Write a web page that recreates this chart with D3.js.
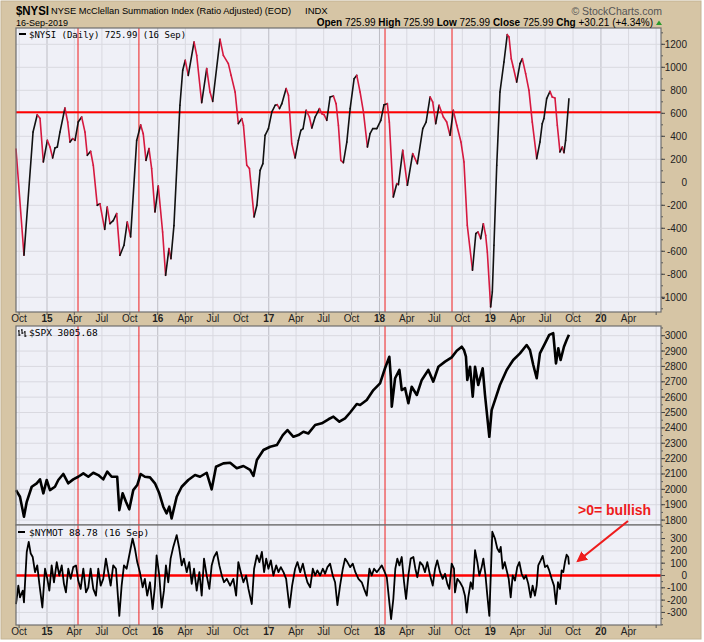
<!DOCTYPE html>
<html>
<head>
<meta charset="utf-8">
<title>$NYSI McClellan Summation Index</title>
<script src="https://cdnjs.cloudflare.com/ajax/libs/d3/7.8.5/d3.min.js"></script>
<style>
  body { margin: 0; background: #fff; }
  #chartDiv { width: 704px; height: 642px; }
  text { font-family: "Liberation Sans", Arial, sans-serif; }
  .mono { font-family: "DejaVu Sans Mono", "Liberation Mono", monospace; }
</style>
</head>
<body>
<div id="chartDiv"></div>
<script>

// ---- data (dates as decimal years) ----
const nysiDates = [
  2014.720, 2014.792, 2014.874, 2014.912, 2014.937, 2014.967, 2015.003, 2015.027, 2015.051, 2015.072,
  2015.093, 2015.117, 2015.162, 2015.187, 2015.208, 2015.232, 2015.253, 2015.282, 2015.313, 2015.343,
  2015.364, 2015.394, 2015.418, 2015.454, 2015.478, 2015.521, 2015.544, 2015.569, 2015.598, 2015.629,
  2015.659, 2015.695, 2015.725, 2015.755, 2015.810, 2015.846, 2015.869, 2015.894, 2015.921, 2015.945,
  2015.975, 2016.005, 2016.044, 2016.071, 2016.101, 2016.119, 2016.146, 2016.200, 2016.225, 2016.248,
  2016.275, 2016.327, 2016.351, 2016.396, 2016.441, 2016.471, 2016.495, 2016.561, 2016.591, 2016.636,
  2016.661, 2016.697, 2016.726, 2016.757, 2016.772, 2016.802, 2016.826, 2016.868, 2016.893, 2016.922,
  2016.947, 2016.967, 2016.997, 2017.028, 2017.058, 2017.076, 2017.097, 2017.118, 2017.157, 2017.178,
  2017.208, 2017.238, 2017.268, 2017.290, 2017.310, 2017.338, 2017.367, 2017.389, 2017.419, 2017.458,
  2017.479, 2017.500, 2017.524, 2017.554, 2017.584, 2017.608, 2017.629, 2017.651, 2017.674, 2017.705,
  2017.735, 2017.771, 2017.795, 2017.825, 2017.855, 2017.891, 2017.915, 2017.939, 2017.976, 2018.012,
  2018.041, 2018.071, 2018.089, 2018.125, 2018.156, 2018.171, 2018.210, 2018.252, 2018.300, 2018.342,
  2018.391, 2018.421, 2018.457, 2018.481, 2018.508, 2018.538, 2018.577, 2018.607, 2018.637, 2018.667,
  2018.698, 2018.736, 2018.763, 2018.793, 2018.840, 2018.870, 2018.890, 2018.914, 2018.938, 2018.959,
  2018.974, 2019.004, 2019.019, 2019.034, 2019.059, 2019.088, 2019.124, 2019.154, 2019.170, 2019.190,
  2019.208, 2019.239, 2019.269, 2019.290, 2019.320, 2019.350, 2019.380, 2019.420, 2019.449, 2019.470,
  2019.485, 2019.510, 2019.540, 2019.560, 2019.585, 2019.606, 2019.630, 2019.651, 2019.666, 2019.681,
  2019.711
];
const nysiValues = [
  290, -635, 437, 588, 556, 177, 365, 307, 212, 299,
  307, 437, 646, 524, 350, 380, 365, 524, 568, 437,
  235, 270, 148, -200, -186, -409, -215, -360, -333, -272,
  -635, -548, -345, -475, 365, 499, 423, 191, 293, 119,
  -258, -32, -432, -809, -577, -664, -377, 670, 974, 1061,
  930, 1220, 1104, 693, 989, 785, 704, 1243, 1104, 1032,
  930, 785, 510, 554, 496, 148, 119, -301, -200, 104,
  162, 409, 467, 612, 670, 675, 641, 684, 815, 757,
  336, 212, 365, 452, 467, 626, 568, 472, 568, 641,
  597, 588, 539, 742, 750, 684, 496, 191, 171, 350,
  641, 901, 930, 785, 612, 307, 423, 467, 467, 539,
  675, 684, 524, -128, -12, -20, 278, -26, 249, 162,
  467, 524, 742, 698, 510, 670, 568, 524, 409, 626,
  496, 350, 177, -374, -765, -446, -432, -490, -360, -461,
  -606, -1084, -954, -548, 148, 785, 1046, 1284, 1264, 1075,
  1003, 872, 1032, 1075, 945, 800, 524, 206, 350, 510,
  554, 728, 791, 742, 733, 496, 264, 307, 258, 365,
  726
];

const spxDates = [
  2014.720, 2014.756, 2014.792, 2014.817, 2014.862, 2014.907, 2014.937, 2014.967, 2014.997, 2015.027,
  2015.072, 2015.102, 2015.147, 2015.192, 2015.237, 2015.282, 2015.328, 2015.373, 2015.418, 2015.463,
  2015.508, 2015.544, 2015.584, 2015.634, 2015.653, 2015.683, 2015.713, 2015.743, 2015.779, 2015.815,
  2015.846, 2015.884, 2015.930, 2015.975, 2016.014, 2016.050, 2016.080, 2016.104, 2016.125, 2016.171,
  2016.216, 2016.275, 2016.336, 2016.381, 2016.441, 2016.486, 2016.525, 2016.591, 2016.652, 2016.712,
  2016.772, 2016.832, 2016.862, 2016.893, 2016.952, 2017.013, 2017.073, 2017.127, 2017.169, 2017.223,
  2017.268, 2017.313, 2017.358, 2017.419, 2017.479, 2017.539, 2017.584, 2017.638, 2017.689, 2017.735,
  2017.795, 2017.825, 2017.885, 2017.945, 2018.005, 2018.050, 2018.089, 2018.102, 2018.111, 2018.141,
  2018.180, 2018.201, 2018.231, 2018.261, 2018.291, 2018.337, 2018.382, 2018.441, 2018.486, 2018.532,
  2018.592, 2018.652, 2018.698, 2018.743, 2018.763, 2018.781, 2018.793, 2018.818, 2018.842, 2018.863,
  2018.892, 2018.932, 2018.953, 2018.992, 2019.013, 2019.043, 2019.088, 2019.149, 2019.208, 2019.269,
  2019.329, 2019.359, 2019.389, 2019.420, 2019.449, 2019.495, 2019.533, 2019.569, 2019.594, 2019.615,
  2019.636, 2019.666, 2019.690, 2019.711
];
const spxValues = [
  1995, 1952, 1822, 1919, 2017, 2039, 2065, 1974, 2061, 1995,
  2017, 2061, 2100, 2039, 2065, 2082, 2104, 2082, 2108, 2093,
  2065, 2115, 2082, 2082, 1865, 1974, 1919, 1870, 1995, 2028,
  2100, 2082, 2078, 2039, 1974, 1887, 1844, 1887, 1811, 1952,
  2017, 2061, 2093, 2082, 2108, 2000, 2147, 2169, 2173, 2137,
  2152, 2126, 2087, 2191, 2256, 2277, 2288, 2353, 2386, 2342,
  2353, 2375, 2364, 2419, 2430, 2456, 2473, 2440, 2462, 2500,
  2555, 2549, 2581, 2646, 2690, 2788, 2863, 2733, 2538, 2723,
  2777, 2646, 2658, 2560, 2668, 2614, 2712, 2777, 2701, 2798,
  2831, 2859, 2902, 2928, 2907, 2863, 2712, 2798, 2603, 2798,
  2679, 2788, 2614, 2342, 2516, 2581, 2679, 2777, 2842, 2885,
  2939, 2907, 2809, 2723, 2885, 2950, 3005, 3016, 2820, 2918,
  2842, 2928, 2972, 3006
];

const nymotDates = [
  2014.720, 2014.741, 2014.756, 2014.781, 2014.792, 2014.817, 2014.835, 2014.853, 2014.871, 2014.892,
  2014.912, 2014.931, 2014.958, 2014.982, 2015.003, 2015.021, 2015.042, 2015.063, 2015.088, 2015.111,
  2015.133, 2015.153, 2015.171, 2015.192, 2015.214, 2015.237, 2015.262, 2015.282, 2015.304, 2015.328,
  2015.352, 2015.373, 2015.394, 2015.418, 2015.442, 2015.463, 2015.485, 2015.508, 2015.532, 2015.553,
  2015.575, 2015.598, 2015.623, 2015.653, 2015.674, 2015.695, 2015.719, 2015.743, 2015.773, 2015.794,
  2015.815, 2015.839, 2015.864, 2015.884, 2015.905, 2015.930, 2015.954, 2015.975, 2015.990, 2016.014,
  2016.035, 2016.056, 2016.074, 2016.095, 2016.116, 2016.140, 2016.171, 2016.194, 2016.216, 2016.236,
  2016.261, 2016.284, 2016.306, 2016.327, 2016.351, 2016.375, 2016.396, 2016.417, 2016.441, 2016.465,
  2016.486, 2016.507, 2016.532, 2016.555, 2016.577, 2016.597, 2016.622, 2016.652, 2016.681, 2016.706,
  2016.726, 2016.748, 2016.772, 2016.796, 2016.817, 2016.847, 2016.868, 2016.893, 2016.916, 2016.938,
  2016.958, 2016.977, 2016.997, 2017.019, 2017.042, 2017.067, 2017.088, 2017.109, 2017.133, 2017.157,
  2017.187, 2017.211, 2017.238, 2017.259, 2017.284, 2017.308, 2017.328, 2017.349, 2017.374, 2017.398,
  2017.419, 2017.439, 2017.464, 2017.488, 2017.509, 2017.530, 2017.554, 2017.578, 2017.599, 2017.620,
  2017.644, 2017.669, 2017.689, 2017.710, 2017.735, 2017.759, 2017.782, 2017.810, 2017.840, 2017.861,
  2017.885, 2017.909, 2017.930, 2017.951, 2017.976, 2017.999, 2018.021, 2018.041, 2018.066, 2018.089,
  2018.105, 2018.125, 2018.143, 2018.161, 2018.180, 2018.201, 2018.222, 2018.240, 2018.261, 2018.282,
  2018.306, 2018.324, 2018.342, 2018.366, 2018.391, 2018.411, 2018.432, 2018.457, 2018.481, 2018.502,
  2018.522, 2018.547, 2018.571, 2018.592, 2018.613, 2018.631, 2018.652, 2018.673, 2018.682, 2018.703,
  2018.727, 2018.752, 2018.772, 2018.788, 2018.802, 2018.824, 2018.842, 2018.863, 2018.884, 2018.902,
  2018.923, 2018.938, 2018.956, 2018.974, 2018.992, 2019.004, 2019.019, 2019.043, 2019.064, 2019.082,
  2019.095, 2019.113, 2019.131, 2019.149, 2019.167, 2019.185, 2019.203, 2019.224, 2019.244, 2019.263,
  2019.284, 2019.305, 2019.323, 2019.344, 2019.365, 2019.383, 2019.404, 2019.420, 2019.434, 2019.456,
  2019.474, 2019.495, 2019.515, 2019.533, 2019.555, 2019.576, 2019.594, 2019.612, 2019.630, 2019.645,
  2019.660, 2019.675, 2019.690, 2019.705, 2019.711
];
const nymotValues = [
  -232, -82, -178, -123, -219, 191, 273, 178, 150, 27,
  82, -68, -260, 55, -27, -123, 82, -55, 109, 0,
  82, -68, -137, 55, -27, 68, 82, -41, -109, 55,
  -137, -96, 55, -109, -164, 55, -82, -27, 137, 27,
  -82, 82, 55, -328, -82, 82, 55, 164, 300, 219,
  109, 27, -96, -27, -164, -55, -273, -82, 164, 0,
  -260, -123, 82, -55, 137, 232, 328, 219, 82, 137,
  27, 109, -68, 55, -123, 27, -164, 137, 0, -109,
  82, 150, 191, 82, 0, -55, -27, -82, -27, -164,
  109, 27, -55, 0, -109, -232, 55, 164, 109, 191,
  27, 137, 55, 123, 0, 82, 27, 68, 27, -27,
  -260, -82, 55, 109, 27, 96, 14, -55, -96, 55,
  0, 41, 0, 55, 14, 68, 96, 0, -55, -241,
  -82, 55, 137, 109, 68, 96, 27, -27, -55, -109,
  -164, 55, 0, 55, 27, 55, 82, 41, -14, -219,
  -355, -191, 55, 137, 82, 150, -55, -191, 0, 137,
  150, 55, -14, 109, 82, 27, 109, 0, -82, 55,
  123, 27, -27, 14, -68, -109, 96, 55, -137, -27,
  -55, -96, -164, -301, -178, -55, -109, 205, 109, 0,
  68, 137, 14, -164, -328, -27, 355, 300, 219, 191,
  232, 55, 109, 41, -27, -178, 0, -41, 68, 109,
  14, -27, 0, -68, -178, -82, -164, -82, 82, 123,
  159, 68, 82, 41, -27, -82, -232, -55, -109, 41,
  27, 109, 169, 150, 89
];

// red marker dates drawn through every panel
const markerDates = [2015.280, 2015.830, 2018.050, 2018.655];

// reference levels
const nysiLevel = 610;
const nymotLevel = 0;

// right-axis tick values
const nysiTicks = [-1000, -800, -600, -400, -200, 0, 200, 400, 600, 800, 1000, 1200];
const spxTicks = [1800, 1900, 2000, 2100, 2200, 2300, 2400, 2500, 2600, 2700, 2800, 2900, 3000];
const nymotTicks = [-300, -200, -100, 0, 100, 200, 300];

// visible date range
const xStart = 2014.720, xEnd = 2020.541;

// ---- layout ----
const width = 704, height = 642;
const plotLeft = 16, plotRight = 661;
const nysiBox = { top: 28, bottom: 312 };
const spxBox = { top: 326, bottom: 525 };
const nymotBox = { top: 525, bottom: 625 };

const decToDate = t => {
  const y = Math.floor(t);
  const a = Date.UTC(y, 0, 1), b = Date.UTC(y + 1, 0, 1);
  return new Date(a + (t - y) * (b - a));
};

const svg = d3.select('#chartDiv').append('svg')
  .attr('width', width)
  .attr('height', height);

// tan frame
svg.append('rect')
  .attr('x', 1).attr('y', 1)
  .attr('width', width - 4).attr('height', height - 4)
  .attr('fill', '#d6c5a5')
  .attr('stroke', '#c4b494');

//Scales
const xScale = d3.scaleUtc()
  .domain([decToDate(xStart), decToDate(xEnd)])
  .range([plotLeft, plotRight]);

const yNysi = d3.scaleLinear().domain([-1128, 1342]).range([nysiBox.bottom, nysiBox.top]);
const ySpx = d3.scaleLinear().domain([1768, 3063]).range([spxBox.bottom, spxBox.top]);
const yNymot = d3.scaleLinear().domain([-402, 410]).range([nymotBox.bottom, nymotBox.top]);

const quarterTicks = d3.utcMonth.every(3).range(xScale.domain()[0], xScale.domain()[1]);
const isYear = d => d.getUTCMonth() === 0;
const fmtMonth = d3.utcFormat('%b');
const fmtYear = d3.utcFormat('%y');

// draws background, grid, markers and right axis of one panel
function drawPanel(box, yScale, ticks, minorStep) {
  const g = svg.append('g');

  g.append('rect')
    .attr('x', plotLeft).attr('y', box.top)
    .attr('width', plotRight - plotLeft).attr('height', box.bottom - box.top)
    .attr('fill', '#eff0f7');

  g.selectAll('line.vgrid')
    .data(quarterTicks)
    .join('line')
    .attr('class', 'vgrid')
    .attr('x1', d => xScale(d)).attr('x2', d => xScale(d))
    .attr('y1', box.top).attr('y2', box.bottom)
    .attr('stroke', d => isYear(d) ? '#bdbdc4' : '#d9d9e0')
    .attr('stroke-width', 1);

  g.selectAll('line.hgrid')
    .data(ticks)
    .join('line')
    .attr('class', 'hgrid')
    .attr('x1', plotLeft).attr('x2', plotRight)
    .attr('y1', d => yScale(d)).attr('y2', d => yScale(d))
    .attr('stroke', '#d9d9e0');

  // red markers
  g.selectAll('line.marker')
    .data(markerDates)
    .join('line')
    .attr('class', 'marker')
    .attr('x1', d => xScale(decToDate(d))).attr('x2', d => xScale(decToDate(d)))
    .attr('y1', box.top).attr('y2', box.bottom)
    .attr('stroke', '#f03030')
    .attr('stroke-width', 1.1);

  // minor ticks on the right edge
  const [lo, hi] = yScale.domain();
  const minor = d3.range(Math.ceil(lo / minorStep) * minorStep, hi, minorStep);
  g.selectAll('line.minor')
    .data(minor)
    .join('line')
    .attr('x1', plotRight).attr('x2', plotRight + 2)
    .attr('y1', d => yScale(d)).attr('y2', d => yScale(d))
    .attr('stroke', '#555');

  g.selectAll('line.major')
    .data(ticks)
    .join('line')
    .attr('x1', plotRight).attr('x2', plotRight + 4)
    .attr('y1', d => yScale(d)).attr('y2', d => yScale(d))
    .attr('stroke', '#444');

  g.selectAll('text.ylab')
    .data(ticks)
    .join('text')
    .attr('class', 'ylab')
    .attr('x', 687)
    .attr('y', d => yScale(d) + 3.5)
    .attr('text-anchor', 'end')
    .attr('font-size', '10px')
    .attr('fill', '#222')
    .text(d => d);

  return g;
}

function drawBorder(box) {
  svg.append('rect')
    .attr('x', plotLeft).attr('y', box.top)
    .attr('width', plotRight - plotLeft).attr('height', box.bottom - box.top)
    .attr('fill', 'none')
    .attr('stroke', '#6e6e6e')
    .attr('stroke-width', 1.2);
}

function drawDateAxis(yLine) {
  const g = svg.append('g');
  g.selectAll('line')
    .data(quarterTicks)
    .join('line')
    .attr('x1', d => xScale(d)).attr('x2', d => xScale(d))
    .attr('y1', yLine).attr('y2', yLine + 3)
    .attr('stroke', '#555');
  g.selectAll('text')
    .data(quarterTicks.filter(d => xScale(d) < 645))
    .join('text')
    .attr('x', d => xScale(d))
    .attr('y', yLine + 10)
    .attr('text-anchor', 'middle')
    .attr('font-size', '10px')
    .attr('font-weight', d => isYear(d) ? 'bold' : 'normal')
    .attr('fill', '#222')
    .text(d => isYear(d) ? fmtYear(d) : fmtMonth(d));
}

// ---- NYSI panel ----
const nysiG = drawPanel(nysiBox, yNysi, nysiTicks, 100);

nysiG.append('line')
  .attr('x1', plotLeft).attr('x2', plotRight)
  .attr('y1', yNysi(nysiLevel)).attr('y2', yNysi(nysiLevel))
  .attr('stroke', '#ff0000')
  .attr('stroke-width', 2);

const nysiPts = nysiDates.map((t, i) => ({ date: decToDate(t), value: nysiValues[i] }));
const nysiSegs = d3.pairs(nysiPts);

// black while rising, red while falling
nysiG.selectAll('line.seg')
  .data(nysiSegs)
  .join('line')
  .attr('class', 'seg')
  .attr('x1', d => xScale(d[0].date)).attr('y1', d => yNysi(d[0].value))
  .attr('x2', d => xScale(d[1].date)).attr('y2', d => yNysi(d[1].value))
  .attr('stroke', d => d[1].value >= d[0].value ? '#111' : '#d6193f')
  .attr('stroke-width', 1.6)
  .attr('stroke-linecap', 'round');

drawBorder(nysiBox);
drawDateAxis(nysiBox.bottom);

// ---- SPX panel ----
const spxG = drawPanel(spxBox, ySpx, spxTicks, 50);

const spxLine = d3.line()
  .x((d, i) => xScale(decToDate(spxDates[i])))
  .y(d => ySpx(d));

spxG.append('path')
  .attr('d', spxLine(spxValues))
  .attr('fill', 'none')
  .attr('stroke', '#000')
  .attr('stroke-width', 2.6)
  .attr('stroke-linejoin', 'round');

drawBorder(spxBox);

// ---- NYMOT panel ----
const nymotG = drawPanel(nymotBox, yNymot, nymotTicks, 50);

nymotG.append('line')
  .attr('x1', plotLeft).attr('x2', plotRight)
  .attr('y1', yNymot(nymotLevel)).attr('y2', yNymot(nymotLevel))
  .attr('stroke', '#ff0000')
  .attr('stroke-width', 2.5);

const nymotLine = d3.line()
  .x((d, i) => xScale(decToDate(nymotDates[i])))
  .y(d => yNymot(d));

nymotG.append('path')
  .attr('d', nymotLine(nymotValues))
  .attr('fill', 'none')
  .attr('stroke', '#000')
  .attr('stroke-width', 1.8)
  .attr('stroke-linejoin', 'round');

drawBorder(nymotBox);
drawDateAxis(nymotBox.bottom);

// ---- panel captions ----
svg.append('rect').attr('x', 19).attr('y', 33).attr('width', 7).attr('height', 2).attr('fill', '#000');
svg.append('text').attr('class', 'mono')
  .attr('x', 29).attr('y', 37.5)
  .attr('font-size', '9px')
  .text('$NYSI (Daily) 725.99 (16 Sep)');

svg.append('path')
  .attr('d', 'M19,330v6M18,331h1M19,335h1.5M22,329v5M21,330h1M22,333h1.5M25,331v6M24,332h1M25,336h1.5')
  .attr('stroke', '#000').attr('fill', 'none');
svg.append('text').attr('class', 'mono')
  .attr('x', 29).attr('y', 336)
  .attr('font-size', '9.5px')
  .text('$SPX 3005.68');

svg.append('rect').attr('x', 18).attr('y', 531).attr('width', 7).attr('height', 2).attr('fill', '#000');
svg.append('text').attr('class', 'mono')
  .attr('x', 29).attr('y', 535.5)
  .attr('font-size', '9.5px')
  .text('$NYMOT 88.78 (16 Sep)');

// ---- header ----
svg.append('text')
  .attr('x', 16).attr('y', 14.5)
  .attr('font-size', '13px').attr('font-weight', 'bold')
  .attr('textLength', 33).attr('lengthAdjust', 'spacingAndGlyphs')
  .text('$NYSI');
svg.append('text')
  .attr('x', 51).attr('y', 14)
  .attr('font-size', '9.5px')
  .attr('textLength', 240).attr('lengthAdjust', 'spacingAndGlyphs')
  .text('NYSE McClellan Summation Index (Ratio Adjusted) (EOD)');
svg.append('text')
  .attr('x', 305).attr('y', 14)
  .attr('font-size', '9.5px')
  .text('INDX');
svg.append('text')
  .attr('x', 662).attr('y', 15)
  .attr('text-anchor', 'end')
  .attr('font-size', '10.5px')
  .attr('fill', '#555')
  .text('© StockCharts.com');
svg.append('text')
  .attr('x', 16).attr('y', 25.5)
  .attr('font-size', '9px')
  .text('16-Sep-2019');

const quote = svg.append('text')
  .attr('x', 653).attr('y', 25.5)
  .attr('text-anchor', 'end')
  .attr('font-size', '10px');
[['Open', ' 725.99 '], ['High', ' 725.99 '], ['Low', ' 725.99 '], ['Close', ' 725.99 '], ['Chg', ' +30.21 (+4.34%)']]
  .forEach(([k, v]) => {
    quote.append('tspan').attr('font-weight', 'bold').text(k);
    quote.append('tspan').text(v);
  });
svg.append('path')
  .attr('d', 'M656,25 L659,20.5 L662,25 Z')
  .attr('fill', '#2a9a2a');

// ---- annotation ----
svg.append('text')
  .attr('x', 578).attr('y', 515)
  .attr('font-size', '14px').attr('font-weight', 'bold')
  .attr('fill', '#ee1c1c')
  .text('>0= bullish');

svg.append('defs').append('marker')
  .attr('id', 'arrowHead')
  .attr('viewBox', '0 0 10 10')
  .attr('refX', 8).attr('refY', 5)
  .attr('markerWidth', 5).attr('markerHeight', 5)
  .attr('orient', 'auto')
  .append('path')
  .attr('d', 'M0,0 L10,5 L0,10 Z')
  .attr('fill', '#ee1c1c');

svg.append('line')
  .attr('x1', 628).attr('y1', 521)
  .attr('x2', 578).attr('y2', 561)
  .attr('stroke', '#ee1c1c')
  .attr('stroke-width', 2.2)
  .attr('marker-end', 'url(#arrowHead)');

</script>
</body>
</html>
